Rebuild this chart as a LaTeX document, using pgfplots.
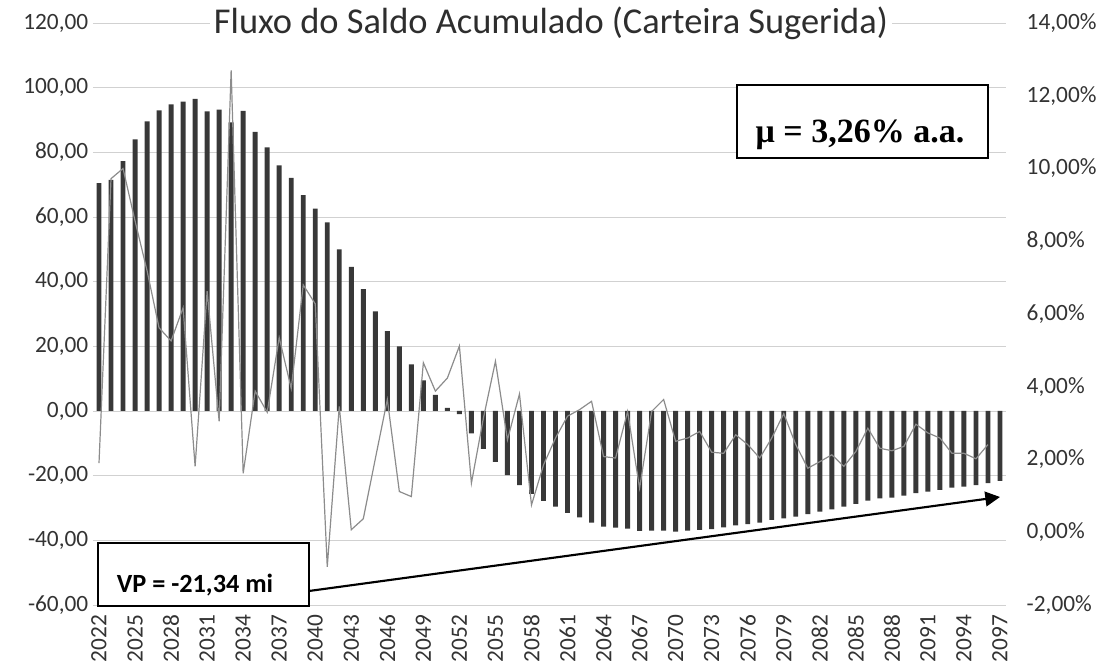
\documentclass[border=0pt]{standalone}
\usepackage{fontspec}
\setmainfont{Carlito}
\newfontfamily\serifb{Liberation Serif}
\usepackage{pgfplots}
\usepackage{pgfplotstable}
\pgfplotsset{compat=1.18}
\usetikzlibrary{arrows.meta}

\pgfplotstableread{
year val
2022 70.5
2023 71.5
2024 77.3
2025 84.0
2026 89.6
2027 93.0
2028 94.8
2029 95.7
2030 96.5
2031 92.7
2032 93.2
2033 89.3
2034 92.8
2035 86.3
2036 81.5
2037 76.0
2038 72.1
2039 66.8
2040 62.6
2041 58.3
2042 50.0
2043 44.6
2044 37.7
2045 30.8
2046 24.7
2047 20.0
2048 14.4
2049 9.5
2050 5.0
2051 1.0
2052 -1.0
2053 -6.9
2054 -11.7
2055 -15.7
2056 -19.8
2057 -22.9
2058 -25.6
2059 -27.8
2060 -29.6
2061 -31.5
2062 -32.9
2063 -34.5
2064 -35.8
2065 -36.1
2066 -36.4
2067 -37.1
2068 -37.0
2069 -37.0
2070 -37.3
2071 -37.0
2072 -36.8
2073 -36.5
2074 -36.0
2075 -35.4
2076 -35.0
2077 -34.5
2078 -33.7
2079 -33.2
2080 -32.7
2081 -31.9
2082 -31.1
2083 -30.4
2084 -29.6
2085 -28.7
2086 -27.7
2087 -27.0
2088 -26.8
2089 -26.2
2090 -25.4
2091 -24.9
2092 -24.4
2093 -23.7
2094 -23.4
2095 -22.9
2096 -22.3
2097 -21.6
}\bars

\pgfplotstableread{
year r
2022 1.90
2023 9.72
2024 10.00
2025 8.56
2026 7.19
2027 5.62
2028 5.26
2029 6.17
2030 1.81
2031 6.63
2032 3.05
2033 12.70
2034 1.62
2035 3.88
2036 3.30
2037 5.35
2038 3.95
2039 6.80
2040 6.28
2041 -0.95
2042 3.46
2043 0.07
2044 0.37
2045 2.02
2046 3.65
2047 1.12
2048 0.98
2049 4.66
2050 3.88
2051 4.24
2052 5.12
2053 1.35
2054 3.14
2055 4.70
2056 2.54
2057 3.80
2058 0.75
2059 1.85
2060 2.59
2061 3.19
2062 3.37
2063 3.60
2064 2.08
2065 2.04
2066 3.32
2067 1.21
2068 3.32
2069 3.65
2070 2.50
2071 2.59
2072 2.77
2073 2.20
2074 2.17
2075 2.68
2076 2.41
2077 2.04
2078 2.59
2079 3.26
2080 2.41
2081 1.76
2082 1.94
2083 2.13
2084 1.81
2085 2.22
2086 2.86
2087 2.31
2088 2.24
2089 2.36
2090 2.97
2091 2.73
2092 2.59
2093 2.17
2094 2.17
2095 2.02
2096 2.41
}\rate

\begin{document}
\begin{tikzpicture}
\pgfplotsset{
  common/.style={
    scale only axis, width=684.75pt, height=436.5pt,
    at={(0,0)}, anchor=south west,
    xmin=2021.5, xmax=2097.5,
    axis line style={draw=none},
    major tick length=0pt,
    tick label style={font=\fontsize{17.5}{20}\selectfont, text=black!80},
    /pgf/number format/assume math mode=true,
    clip=false,
  }
}
\begin{axis}[common,
  ymin=-60, ymax=120, ytick={-60,-40,...,120},
  yticklabel={\pgfmathprintnumber[fixed,fixed zerofill,precision=2,use comma]{\tick}},
  ymajorgrids, grid style={black!18, line width=0.7pt},
  xtick={2022,2025,...,2097},
  xticklabel={\pgfmathprintnumber[fixed,precision=0,1000 sep={}]{\tick}},
  xticklabel style={rotate=90, anchor=east},
  xticklabel shift=4pt,
  ybar, bar width=3.7pt,
]
\addplot[fill=black!78, draw=none] table[x=year,y=val]{\bars};
\end{axis}
\begin{axis}[common,
  ymin=-2, ymax=14, ytick={-2,0,...,14},
  yticklabel pos=right,
  xtick=\empty,
  yticklabel={\pgfmathprintnumber[fixed,fixed zerofill,precision=2,use comma]{\tick}\%},
  yticklabel style={xshift=12pt},
]
\addplot[color=black!45, line width=0.9pt, mark=none] table[x=year,y=r]{\rate};
\end{axis}
\begin{scope}[shift={(-69.75pt,453.75pt)}, x=0.75pt, y=-0.75pt]
  \node[fill=white, inner sep=3pt, anchor=base, font=\fontsize{27.3}{30}\selectfont, text=black!82] at (551,34) {Fluxo do Saldo Acumulado (Carteira Sugerida)};
  \draw[line width=1.1pt, fill=white] (737,85) rectangle (988,158);
  \node[anchor=base, font=\serifb\bfseries\fontsize{25.5}{28}\selectfont] at (860,143) {μ = 3,26\% a.a.};
  \draw[line width=1.1pt, fill=white] (98,543) rectangle (309,606);
  \node[anchor=base, font=\bfseries\fontsize{19.7}{22}\selectfont] at (195,593) {VP = -21,34 mi};
  \draw[line width=1.6pt, -{Triangle[length=11pt,width=11pt]}] (309,591) -- (1000,497);
  \pgfresetboundingbox
  \path (0,0) rectangle (1103,666);
\end{scope}
\end{tikzpicture}
\end{document}
